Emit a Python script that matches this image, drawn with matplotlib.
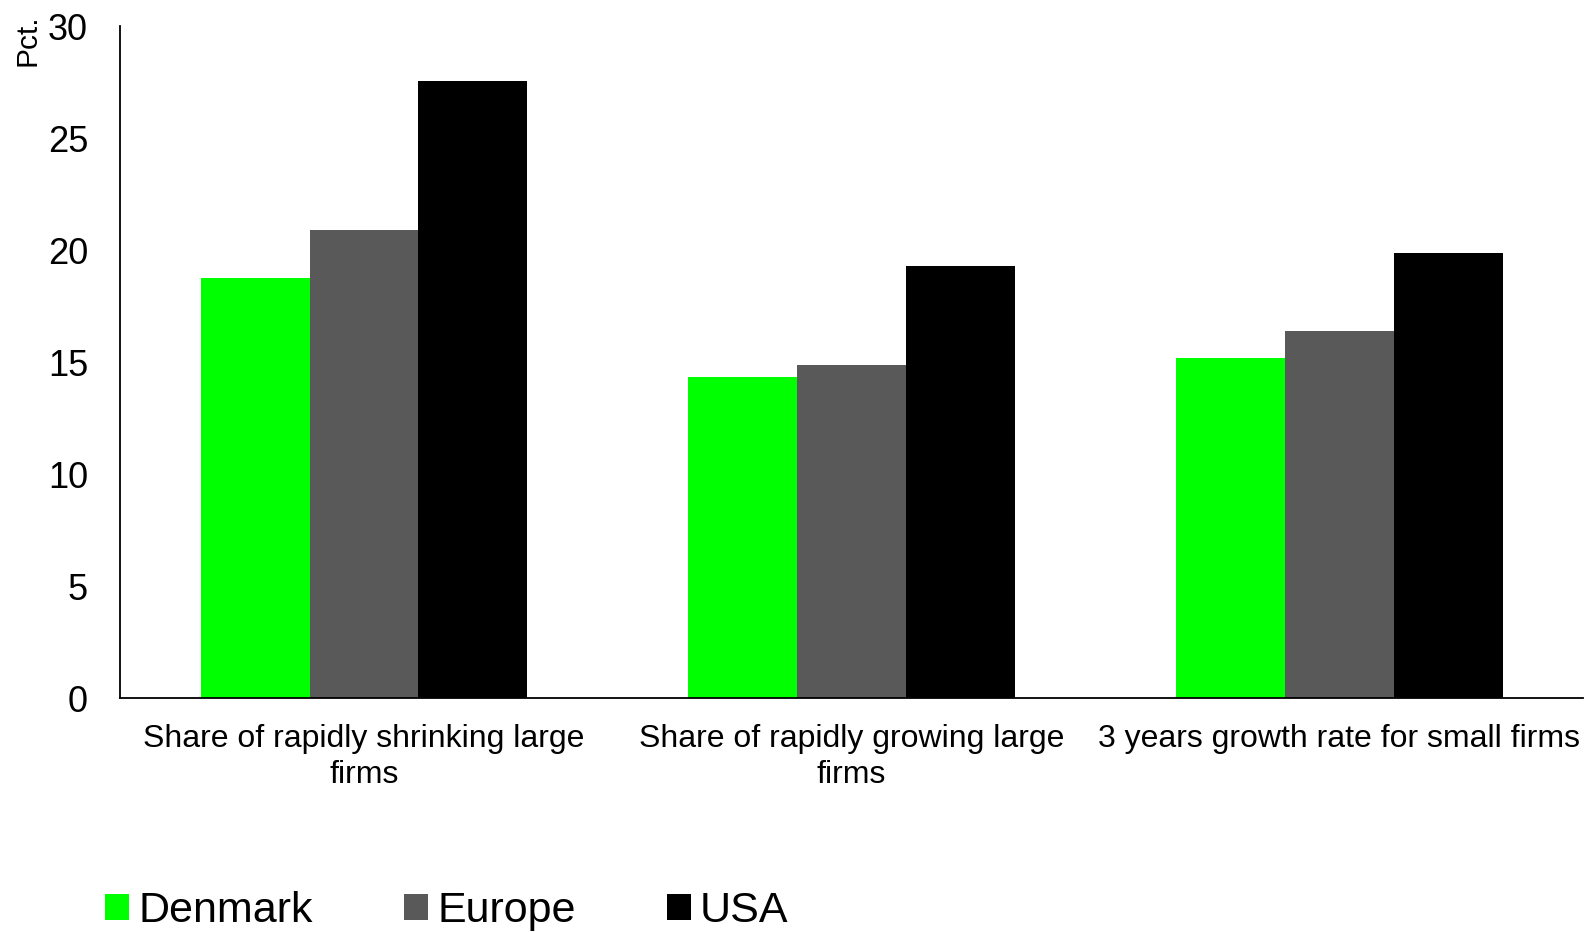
import matplotlib
matplotlib.use("Agg")
import matplotlib.pyplot as plt
import numpy as np
from matplotlib.patches import Patch

CATEGORIES = [
    "Share of rapidly shrinking large\nfirms",
    "Share of rapidly growing large\nfirms",
    "3 years growth rate for small firms",
]
SERIES = ["Denmark", "Europe", "USA"]
DENMARK = [18.75, 14.35, 15.2]
EUROPE = [20.9, 14.85, 16.4]
USA = [27.55, 19.3, 19.85]
COLORS = ["#00ff00", "#595959", "#000000"]

plt.rcParams["font.family"] = ["Liberation Sans", "DejaVu Sans"]


def main():
    fig = plt.figure(figsize=(15.88, 9.32), dpi=100)
    ax = fig.add_axes([0.0756, 0.251, 0.9214, 0.721])

    x = np.arange(len(CATEGORIES))
    width = 0.223
    for offset, vals, color in zip([-width, 0, width], [DENMARK, EUROPE, USA], COLORS):
        ax.bar(x + offset, vals, width, color=color, linewidth=0)

    ax.set_xlim(-0.5, 2.5)
    ax.set_ylim(0, 30)
    ax.set_yticks(np.arange(0, 31, 5))
    ax.set_xticks(x, CATEGORIES)
    ax.tick_params(axis="y", length=0, pad=23, labelsize=26)
    ax.tick_params(axis="x", length=0, pad=18.5, labelsize=23)
    for lab in ax.get_xticklabels():
        lab.set_linespacing(1.27)
    for side in ["top", "right"]:
        ax.spines[side].set_visible(False)
    for side in ["left", "bottom"]:
        ax.spines[side].set_linewidth(1.3)
        ax.spines[side].set_color("black")

    fig.text(27 / 1588, 1 - 14 / 932, "Pct.", rotation=90, fontsize=21.5,
             ha="center", va="top")

    handles = [Patch(facecolor=c, edgecolor="none") for c in COLORS]
    fig.legend(handles, SERIES, loc="center left",
               bbox_to_anchor=(105 / 1588, 1 - 911 / 932), ncol=3,
               frameon=False, fontsize=31, handlelength=0.56, handleheight=0.56,
               handletextpad=0.21, columnspacing=2.12, borderpad=0,
               borderaxespad=0)

    fig.savefig("out.png", dpi=100)


if __name__ == "__main__":
    main()
